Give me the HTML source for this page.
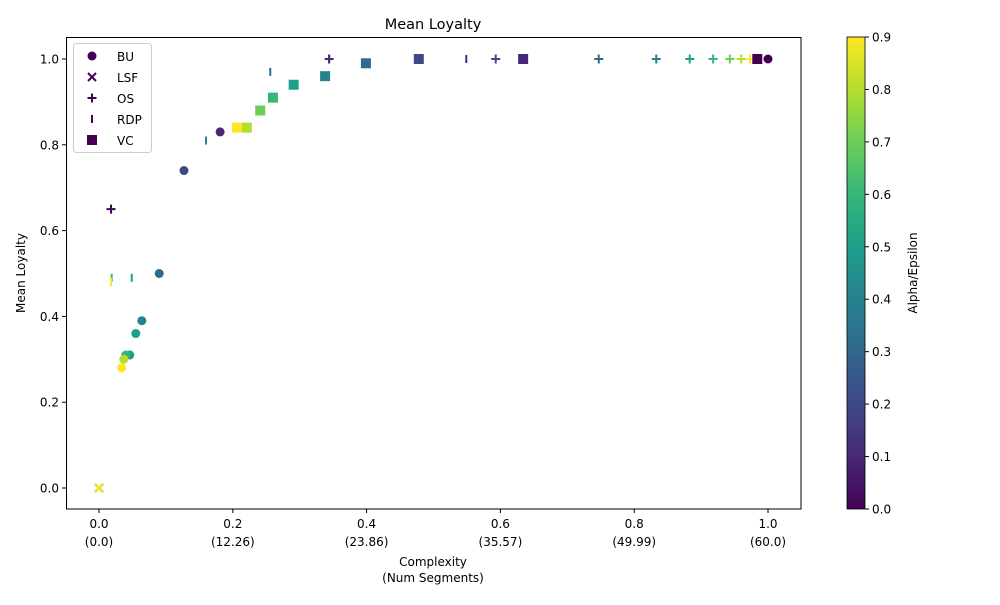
<!DOCTYPE html>
<html><head><meta charset="utf-8"><style>
body{margin:0;background:#fff;}
svg{font-family:"DejaVu Sans","Liberation Sans",sans-serif;}
</style></head><body>
<svg id="chart" width="1000" height="600" viewBox="0 0 1000 600" xmlns="http://www.w3.org/2000/svg">
<defs><linearGradient id="vir" x1="0" y1="1" x2="0" y2="0"></linearGradient></defs>
<rect x="0" y="0" width="1000" height="600" fill="#fff"/>
<text x="433" y="29" font-size="14.5" text-anchor="middle">Mean Loyalty</text>
<g id="marks"></g>
<rect x="66.5" y="37.5" width="734.5" height="471.5" fill="none" stroke="#000" stroke-width="1"/>
<g id="axes"></g>
<text x="433" y="566" font-size="12" text-anchor="middle">Complexity</text>
<text x="433" y="582" font-size="12" text-anchor="middle">(Num Segments)</text>
<text transform="translate(25,273) rotate(-90)" font-size="12" text-anchor="middle">Mean Loyalty</text>
<g>
<rect x="73.5" y="43.5" width="78" height="109" fill="#fff" fill-opacity="0.8" stroke="#ccc" rx="3"/>
<g id="legend"></g>
</g>
<rect x="847" y="37" width="18" height="472" fill="url(#vir)" stroke="#000" stroke-width="0.8"/>
<g id="cbticks"></g>
<text transform="translate(917,273) rotate(-90)" font-size="12" text-anchor="middle">Alpha/Epsilon</text>
</svg>
<script>
const xTicks=[0,0.2,0.4,0.6,0.8,1.0];
const xTickSub=["(0.0)","(12.26)","(23.86)","(35.57)","(49.99)","(60.0)"];
const yTicks=[0,0.2,0.4,0.6,0.8,1.0];
const cbTicks=[0,0.1,0.2,0.3,0.4,0.5,0.6,0.7,0.8,0.9];
const buX=[1.0,0.181,0.127,0.09,0.064,0.055,0.046,0.04,0.037,0.034];
const buY=[1.0,0.83,0.74,0.5,0.39,0.36,0.31,0.31,0.30,0.28];
const buC=[0,0.1,0.2,0.3,0.4,0.5,0.5,0.6,0.8,0.9];
const lsfX=[0,0,0,0,0,0,0,0,0,0];
const lsfY=[0,0,0,0,0,0,0,0,0,0];
const lsfC=[0,0.1,0.2,0.3,0.4,0.5,0.6,0.7,0.8,0.9];
const osX=[0.018,0.344,0.593,0.747,0.833,0.883,0.918,0.943,0.96,0.973];
const osY=[0.65,1,1,1,1,1,1,1,1,1];
const osC=[0,0.1,0.2,0.3,0.4,0.5,0.6,0.7,0.8,0.9];
const rdpX=[0.344,0.549,0.256,0.16,0.049,0.019,0.018];
const rdpY=[1.0,1.0,0.97,0.81,0.49,0.49,0.48];
const rdpC=[0.1,0.1,0.3,0.4,0.5,0.6,0.9];
const vcX=[0.984,0.634,0.478,0.399,0.338,0.291,0.26,0.241,0.221,0.206];
const vcY=[1,1,1,0.99,0.96,0.94,0.91,0.88,0.84,0.84];
const vcC=[0,0.1,0.2,0.3,0.4,0.5,0.6,0.7,0.8,0.9];

const NS="http://www.w3.org/2000/svg";
const sx=v=>99+v*669, sy=v=>488-v*429;
const cy=v=>509-v/0.9*472;
const VIR=[[68,1,84],[72,40,120],[62,73,137],[49,104,142],[38,130,142],[31,158,137],[53,183,121],[109,205,89],[180,222,44],[253,231,37]];
function vir(c){let t=Math.max(0,Math.min(1,c/0.9))*9;let i=Math.min(8,Math.floor(t)),f=t-i;const a=VIR[i],b=VIR[i+1];
return "rgb("+a.map((v,k)=>Math.round(v+(b[k]-v)*f)).join(",")+")";}
function el(tag,attrs,parent){const e=document.createElementNS(NS,tag);for(const k in attrs)e.setAttribute(k,attrs[k]);parent.appendChild(e);return e;}
const grad=document.getElementById('vir');
for(let i=0;i<=9;i++){el('stop',{offset:(i/9),'stop-color':vir(i/10)},grad);}
const marks=document.getElementById('marks');
function marker(type,x,y,col,parent){let e;
 if(type==='o')e=el('circle',{cx:x,cy:y,r:4.5,fill:col},parent);
 else if(type==='s')e=el('rect',{x:x-5,y:y-5,width:10,height:10,fill:col},parent);
 else if(type==='x')e=el('path',{d:`M${x-4},${y-4}L${x+4},${y+4}M${x-4},${y+4}L${x+4},${y-4}`,stroke:col,'stroke-width':2,fill:'none'},parent);
 else if(type==='+')e=el('path',{d:`M${x-4.5},${y}L${x+4.5},${y}M${x},${y-4.5}L${x},${y+4.5}`,stroke:col,'stroke-width':2,fill:'none'},parent);
 else e=el('path',{d:`M${x},${y-4}L${x},${y+4}`,stroke:col,'stroke-width':2,fill:'none'},parent);
 return e;}
function series(name,type,X,Y,C){const g=el('g',{},marks);
 
 
 X.forEach((v,i)=>{const m=marker(type,sx(v),sy(Y[i]),vir(C[i]),g);
  
  });}
series('bu','o',buX,buY,buC);
series('lsf','x',lsfX,lsfY,lsfC);
series('os','+',osX,osY,osC);
series('rdp','|',rdpX,rdpY,rdpC);
series('vc','s',vcX,vcY,vcC);
const ax=document.getElementById('axes');
xTicks.forEach((t,i)=>{const x=sx(t);
 el('line',{x1:x,y1:509,x2:x,y2:513,stroke:'#000'},ax);
 const a=el('text',{x:x,y:528,'font-size':12,'text-anchor':'middle'},ax);a.textContent=t.toFixed(1);
 
 
 const b=el('text',{x:x,y:546,'font-size':12,'text-anchor':'middle'},ax);b.textContent=xTickSub[i];
 
 });
yTicks.forEach(t=>{const y=sy(t);
 el('line',{x1:62,y1:y,x2:66,y2:y,stroke:'#000'},ax);
 const a=el('text',{x:59,y:y+4.5,'font-size':12,'text-anchor':'end'},ax);a.textContent=t.toFixed(1);
 
 });
const cb=document.getElementById('cbticks');
cbTicks.forEach(t=>{const y=cy(t);
 el('line',{x1:865,y1:y,x2:869,y2:y,stroke:'#000'},cb);
 const a=el('text',{x:872,y:y+4.5,'font-size':12},cb);a.textContent=t.toFixed(1);
 
 });
const lg=document.getElementById('legend');
const legNames=["BU","LSF","OS","RDP","VC"],legTypes=['o','x','+','|','s'];
legNames.forEach((n,i)=>{const y=56+i*21;const g=el('g',{},lg);
 
 
 marker(legTypes[i],92,y,vir(0),g);
 const t=el('text',{x:117,y:y+5,'font-size':12},g);t.textContent=n;});
</script>
</body></html>
